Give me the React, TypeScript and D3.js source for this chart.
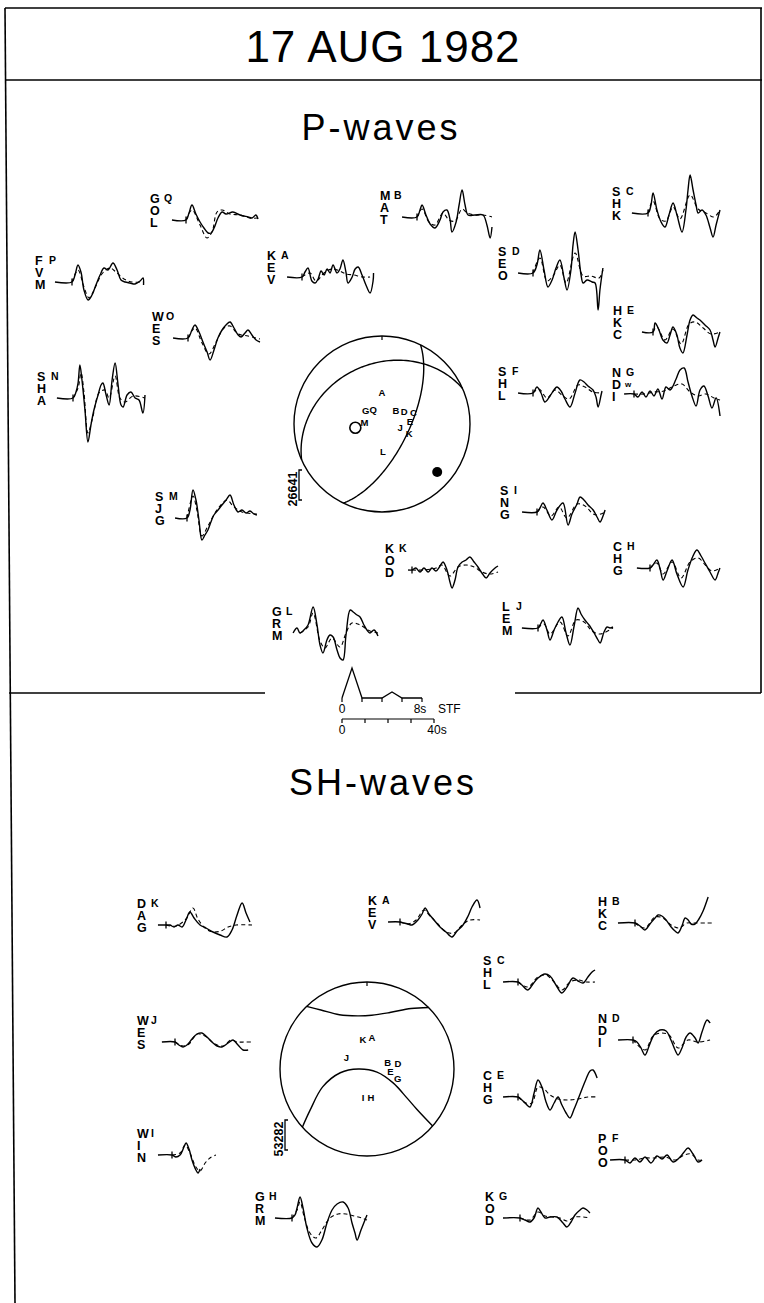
import React from "react";
import * as d3 from "d3";

type Pt = [number, number];

// ---------- event + mechanism ----------
const eventDate = "17 AUG 1982";
const pTitle = "P-waves";
const shTitle = "SH-waves";

// double-couple nodal planes (degrees)
const nodalPlanes = [
  { strike: 26, dip: 65 },
  { strike: 246, dip: 32 },
];
const pAxis = { trend: 131, plunge: 18 };
const tAxis = { trend: 262, plunge: 65 };

// station letters on the P focal sphere: [letter, azimuth, normalised radius]
const pSphereLetters: [string, number, number][] = [
  ["A", 0, 0.36], ["L", 178, 0.31], ["M", 276, 0.2], ["G", 309, 0.24],
  ["Q", 328, 0.19], ["B", 46, 0.22], ["D", 60, 0.29], ["C", 70, 0.38],
  ["E", 84, 0.32], ["J", 100, 0.21], ["K", 110, 0.33],
];

// station letters on the SH focal sphere
const shSphereLetters: [string, number, number][] = [
  ["K", 352, 0.34], ["A", 9, 0.37], ["J", 298, 0.27], ["B", 72, 0.25],
  ["D", 80, 0.36], ["E", 96, 0.27], ["G", 108, 0.37], ["I", 188, 0.33], ["H", 172, 0.33],
];

// SH nodal lines: [azimuth, normalised radius]
const shNodalUpper: Pt[] = [
  [316, 1.0], [322, 0.86], [333, 0.7], [350, 0.62], [5, 0.62], [22, 0.7], [36, 0.86], [45, 1.0],
];
const shNodalLower: Pt[] = [
  [228, 1.0], [234, 0.81], [248, 0.55], [262, 0.31], [270, 0.1],
  [107, 0.12], [118, 0.34], [126, 0.57], [129, 0.74], [131, 1.0],
];

const pScaleLabel = "26641";
const shScaleLabel = "53282";

// source time function (s, relative moment rate)
const stf: Pt[] = [[0, 0], [1, 1], [2, 0], [4, 0], [5, 0.2], [6, 0], [8, 0]];
const stfTicks = [0, 2, 4, 6, 8];
const traceTicks = [0, 10, 20, 30, 40];

// ---------- P waveforms: [time s, amplitude] ----------
const pObserved: Record<string, Pt[]> = {
  GOL: [[-6.1,0],[0,0],[1.3,7],[2.6,15],[4.3,6],[6.1,-2],[7.8,-8],[9.6,-13],[10.9,-13],[12.2,-8],[13.9,2],[15.7,8],[17.4,6],[20.4,8],[23.5,5],[27.0,3],[28.7,2],[30.4,5],[31.3,1]],
  FVM: [[-7.4,0],[0,0],[1.3,7],[2.6,17],[3.9,10],[5.2,-8],[7.0,-18],[8.7,-13],[10.4,-3],[12.2,7],[13.9,14],[15.7,12],[17.8,19],[19.6,12],[21.3,2],[23.1,0],[25.2,-1],[27.4,-2],[29.6,1],[30.9,4],[31.1,-3]],
  KEV: [[-6.5,0],[0,0],[1.3,5],[2.6,9],[4.3,-4],[5.7,-6],[7.0,-2],[8.3,6],[9.6,2],[10.9,8],[12.2,4],[13.5,12],[15.2,4],[16.5,8],[17.8,17],[19.1,5],[20.0,-6],[21.8,0],[23.1,8],[24.4,10],[26.1,2],[27.8,-8],[29.6,-16],[30.9,-4],[31.1,4]],
  WES: [[-6.5,0],[0,0],[1.7,8],[3.0,13],[4.8,6],[6.5,-4],[8.3,-14],[9.6,-22],[11.3,-12],[13.0,0],[14.8,8],[16.5,13],[18.3,16],[20.0,10],[21.8,3],[23.1,1],[24.8,5],[26.1,8],[27.8,3],[29.6,-2],[31.3,-4]],
  SHA: [[-7.0,0],[0,0],[1.3,6],[2.2,15],[3.0,33],[3.9,18],[5.2,-12],[6.5,-44],[7.8,-27],[9.1,-12],[10.9,3],[12.2,13],[13.0,15],[14.4,3],[15.7,-7],[17.0,18],[18.3,35],[19.6,13],[20.9,-7],[21.8,-9],[23.5,3],[25.2,6],[27.0,0],[28.7,-2],[30.4,-15],[31.3,3]],
  SJG: [[-5.2,0],[0,0],[1.3,8],[2.6,28],[3.9,18],[5.2,-2],[6.5,-22],[7.8,-17],[9.1,-12],[10.4,-4],[11.7,3],[13.5,8],[15.2,13],[17.0,18],[18.7,23],[20.4,13],[22.2,6],[23.9,8],[25.7,5],[27.4,7],[29.1,4],[30.4,3]],
  GRM: [[-3.0,0],[-1.3,5],[0,0],[1.7,3],[3.5,8],[5.7,26],[7.4,8],[8.7,-12],[10.0,-20],[11.7,-7],[13.0,-2],[14.4,-4],[16.1,-17],[17.4,-25],[18.7,-27],[20.0,-2],[21.8,23],[23.1,21],[24.8,18],[26.1,16],[27.8,8],[29.1,3],[30.4,0],[32.2,3],[33.9,-3]],
  MAT: [[-6.5,0],[0,0],[1.3,7],[2.2,12],[3.9,2],[5.7,-7],[7.8,-11],[10.0,-3],[11.3,5],[13.0,7],[14.4,-3],[15.2,-15],[17.0,-5],[18.3,12],[19.6,27],[20.9,12],[22.2,2],[25.2,2],[28.7,2],[30.4,-8],[31.8,-21],[32.6,-10]],
  SHK: [[-7.0,0],[0,0],[1.3,8],[2.2,20],[3.9,3],[5.7,-9],[7.4,-14],[9.1,-2],[10.9,10],[12.6,-2],[14.8,-19],[16.5,3],[17.4,23],[18.3,38],[19.6,23],[20.9,8],[21.8,0],[23.5,3],[25.2,-2],[27.0,-15],[28.3,-24],[29.6,-12],[31.3,3]],
  SEO: [[-6.5,0],[0,0],[1.7,8],[3.0,23],[4.8,3],[6.5,-14],[8.3,-7],[10.0,5],[11.7,13],[13.5,-5],[14.8,-17],[16.5,3],[17.4,28],[18.3,41],[19.6,23],[20.9,-2],[21.8,-10],[23.5,-7],[25.7,-9],[27.0,-10],[28.3,-37],[29.1,-17],[30.4,5]],
  HKC: [[-4.8,0],[0,0],[0.9,9],[2.6,2],[4.3,-8],[6.1,-11],[7.4,-3],[8.7,5],[10.4,-3],[11.7,-16],[13.0,-21],[14.8,-3],[16.1,12],[17.4,17],[19.1,14],[20.4,12],[22.6,7],[24.8,2],[26.1,-8],[27.0,-15],[28.3,-6],[29.1,0]],
  SHL: [[-6.5,0],[0,0],[1.7,6],[3.5,0],[5.2,-9],[7.4,-3],[9.1,3],[10.4,6],[12.2,2],[13.9,-6],[16.1,-14],[18.3,0],[20.4,13],[22.2,11],[23.9,7],[26.1,3],[27.4,-4],[28.3,-14],[29.6,-2],[30.0,2]],
  NDI: [[-4.3,0],[0,0],[1.7,-3],[3.5,2],[5.2,-3],[7.0,3],[8.7,-2],[10.4,5],[12.2,-5],[13.9,7],[15.7,4],[18.3,15],[20.0,24],[21.8,26],[23.5,12],[25.2,-2],[27.0,-12],[28.7,4],[30.4,8],[32.2,-2],[33.9,-14],[35.7,-4],[37.4,-22]],
  SNG: [[-6.5,0],[0,0],[1.3,4],[2.6,9],[4.3,2],[6.5,-8],[8.7,2],[11.3,9],[13.5,-13],[15.2,-2],[17.4,8],[18.7,15],[20.4,12],[22.2,7],[24.4,2],[26.1,-5],[27.4,-10],[28.7,-4],[29.6,2]],
  KOD: [[-1.7,0],[0,0],[1.7,2],[3.5,-2],[5.2,2],[7.0,-2],[8.7,2],[10.4,-1],[12.2,4],[13.5,8],[15.2,0],[16.5,-12],[17.4,-18],[18.7,-10],[20.0,3],[21.8,8],[23.5,10],[25.2,13],[27.0,8],[28.7,3],[30.4,-3],[32.2,-8],[33.9,-3],[36.1,2],[37.4,4]],
  CHG: [[-5.7,0],[0,0],[1.3,3],[3.0,8],[4.3,0],[5.7,-12],[7.4,-3],[9.6,8],[11.7,-6],[14.4,-19],[16.5,-2],[18.7,12],[20.4,18],[22.2,12],[23.9,5],[26.1,-4],[28.3,-12],[29.6,-5],[30.4,0]],
  LEM: [[-7.0,0],[0,0],[0.9,3],[2.2,8],[3.9,-2],[5.2,-12],[7.0,-2],[8.7,6],[10.4,11],[12.2,-5],[13.9,-17],[15.7,2],[17.4,20],[18.7,14],[20.4,8],[22.2,3],[24.4,-5],[26.1,-12],[27.0,-15],[28.7,-4],[30.0,1],[31.3,0],[32.6,1]],
};

const pSynthetic: Record<string, Pt[]> = {
  GOL: [[0,0],[2.6,10],[6.1,-5],[9.1,-18],[11.3,-12],[13.5,8],[15.7,10],[19.1,6],[23.5,5],[27.8,2],[31.3,2]],
  FVM: [[0,0],[2.6,12],[5.2,-5],[7.4,-16],[9.6,-8],[13.0,8],[16.5,14],[19.1,10],[22.6,3],[26.1,0],[30.9,0]],
  KEV: [[0,0],[3.5,4],[6.1,-4],[9.6,4],[13.0,8],[16.5,6],[19.1,3],[22.6,2],[26.1,0],[29.6,0]],
  WES: [[0,0],[3.0,10],[6.1,-5],[9.1,-16],[12.2,-4],[15.7,10],[18.3,12],[21.8,4],[26.1,2],[31.3,-1]],
  SHA: [[0,0],[2.2,10],[3.5,25],[4.8,5],[6.5,-35],[8.7,-18],[11.3,5],[13.9,8],[15.7,0],[18.3,22],[20.4,0],[22.6,-4],[26.1,2],[31.3,0]],
  SJG: [[0,0],[2.6,22],[4.3,8],[6.5,-18],[9.1,-8],[13.0,8],[17.4,18],[20.0,12],[23.9,6],[30.4,4]],
  GRM: [[0,0],[3.5,6],[5.7,20],[8.7,-8],[10.9,-15],[13.9,-5],[17.4,-14],[20.0,0],[22.6,10],[26.1,8],[30.4,2],[33.9,0]],
  MAT: [[0,0],[2.2,8],[5.2,-5],[7.8,-8],[11.3,4],[13.9,-3],[16.5,-4],[19.6,8],[21.8,4],[25.2,2],[28.7,2],[32.6,0]],
  SHK: [[0,0],[2.2,12],[5.2,-6],[7.8,-8],[10.9,6],[13.9,-6],[18.3,18],[21.8,4],[25.2,0],[28.7,-4],[31.3,3]],
  SEO: [[0,0],[3.0,15],[6.1,-8],[8.7,-3],[11.7,8],[14.4,-10],[18.3,20],[21.8,-3],[25.2,-3],[28.7,-5],[30.4,3]],
  HKC: [[0,0],[1.7,5],[5.2,-8],[8.7,3],[12.2,-12],[15.7,8],[18.3,10],[21.8,4],[25.2,-2],[29.1,0]],
  SHL: [[0,0],[2.6,4],[6.1,-5],[9.6,3],[13.0,-3],[15.7,-6],[19.6,8],[22.6,6],[26.1,1],[30.0,0]],
  NDI: [[0,0],[4.3,0],[8.7,2],[13.0,3],[17.4,8],[20.9,10],[24.4,2],[27.8,-2],[31.3,0],[34.8,-4],[37.4,-6]],
  SNG: [[0,0],[2.6,5],[6.1,-4],[9.6,5],[13.0,-6],[17.4,8],[20.9,6],[24.4,-2],[26.1,-3],[29.6,0]],
  KOD: [[0,0],[5.2,0],[10.4,2],[13.0,5],[16.5,-6],[20.0,3],[23.5,5],[27.0,3],[30.4,-2],[33.9,-4],[37.4,-2]],
  CHG: [[0,0],[3.0,5],[5.7,-6],[9.6,6],[13.5,-10],[17.4,6],[20.9,10],[24.4,2],[27.0,-3],[30.4,0]],
  LEM: [[0,0],[2.6,4],[5.2,-6],[9.6,6],[13.0,-8],[16.5,8],[20.0,6],[23.5,-3],[27.0,-6],[32.6,0]],
};

// ---------- SH waveforms ----------
const shObserved: Record<string, Pt[]> = {
  DAG: [[-3.5,0],[0,0],[1.7,0],[3.5,-2],[5.2,0],[7.0,-2],[8.7,5],[10.4,13],[12.2,7],[14.8,0],[17.4,-3],[20.4,-7],[23.5,-10],[26.5,-12],[28.7,-5],[30.9,10],[33.1,22],[34.8,12],[36.5,3]],
  WES: [[-5.7,0],[0,0],[1.7,-3],[3.5,-5],[5.2,-3],[7.4,3],[9.6,8],[11.7,9],[13.9,5],[16.1,0],[18.3,-4],[20.4,-5],[23.1,-1],[25.2,2],[27.4,-3],[29.6,-8],[31.8,-8]],
  WIN: [[-6.1,0],[0,0],[1.7,-2],[3.5,0],[5.2,8],[6.1,12],[7.4,6],[8.7,-5],[10.4,-15],[11.3,-18],[12.2,-14]],
  GRM: [[-7.4,0],[0,0],[1.3,3],[2.2,10],[3.5,21],[4.8,10],[6.5,-10],[8.7,-25],[10.9,-29],[13.0,-22],[15.2,-5],[17.4,8],[19.6,14],[22.2,16],[24.4,10],[26.1,-5],[27.4,-15],[28.3,-22],[30.0,-12],[32.6,3]],
  KEV: [[-5.2,0],[0,0],[1.7,-1],[3.5,-2],[5.2,-3],[7.8,2],[9.6,8],[10.9,14],[12.6,8],[14.8,2],[17.4,-5],[20.0,-10],[22.6,-15],[24.8,-9],[27.4,-3],[29.6,6],[31.3,15],[33.5,22],[34.8,14]],
  HKC: [[-7.4,0],[0,0],[2.2,-3],[4.3,-7],[6.5,-1],[8.7,5],[10.0,8],[11.7,7],[13.5,3],[15.7,-4],[17.4,-8],[18.7,-10],[20.4,-3],[21.8,5],[23.1,3],[24.4,-1],[26.1,-1],[27.8,4],[29.6,12],[31.8,26]],
  SHL: [[-6.5,0],[0,0],[1.7,-3],[4.3,-8],[6.5,-2],[8.7,4],[11.7,8],[13.9,6],[16.5,-3],[19.1,-11],[21.3,-5],[23.9,4],[26.1,1],[28.3,-1],[30.4,5],[32.2,10],[33.5,12]],
  NDI: [[-6.5,0],[0,0],[1.7,-2],[3.5,-8],[5.2,-15],[7.0,-6],[9.1,5],[11.7,10],[14.4,9],[16.5,0],[18.3,-10],[19.6,-15],[21.3,-8],[23.1,3],[24.8,7],[27.0,2],[28.3,-3],[30.0,8],[32.2,20],[33.5,17]],
  CHG: [[-6.5,0],[0,0],[1.7,-3],[3.5,-7],[5.2,-10],[7.0,4],[8.7,17],[10.4,10],[12.2,-5],[13.9,-13],[15.7,-6],[17.4,0],[19.1,-8],[20.9,-16],[22.6,-21],[24.4,-12],[27.0,3],[29.6,18],[31.3,26],[32.6,27],[34.4,19]],
  POO: [[-6.5,0],[0,0],[2.2,-3],[4.3,2],[6.5,-2],[8.7,3],[11.3,-3],[13.9,4],[16.1,1],[18.3,5],[20.9,-2],[23.5,2],[25.7,8],[27.4,12],[29.6,6],[31.8,-2],[33.5,0]],
  KOD: [[-7.4,0],[0,0],[2.2,-2],[4.3,-4],[6.1,0],[7.8,10],[9.1,6],[10.9,0],[13.0,1],[16.1,1],[18.7,-5],[20.4,-9],[22.2,-4],[23.9,3],[26.1,8],[27.4,10],[29.1,8],[30.4,5]],
};

const shSynthetic: Record<string, Pt[]> = {
  DAG: [[0,0],[4.3,-1],[8.7,6],[11.7,17],[13.9,6],[17.4,-4],[20.4,-7],[23.9,-6],[27.0,-2],[30.4,0],[37.4,0]],
  WES: [[0,0],[3.5,-4],[6.1,-2],[9.6,8],[13.0,6],[17.4,-2],[20.9,-4],[24.4,2],[27.0,0],[30.4,0],[33.1,0]],
  WIN: [[0,0],[3.5,2],[5.7,10],[7.8,2],[10.4,-12],[12.2,-16],[14.4,-8],[16.5,-3],[19.1,0]],
  GRM: [[0,0],[2.2,8],[3.5,16],[5.2,2],[7.8,-15],[10.4,-20],[13.0,-12],[16.5,0],[20.0,4],[23.5,4],[27.0,2],[30.4,0],[32.6,-2]],
  KEV: [[0,0],[3.5,-2],[7.0,2],[10.4,12],[13.0,6],[16.5,-2],[20.0,-10],[23.5,-11],[27.0,-3],[30.4,2],[34.8,2]],
  HKC: [[0,0],[4.3,-5],[8.7,6],[12.2,5],[15.7,-2],[19.1,-5],[22.6,0],[26.1,0],[31.3,0],[33.9,0]],
  SHL: [[0,0],[4.3,-5],[8.7,5],[12.2,7],[15.7,0],[19.1,-8],[22.6,0],[26.1,2],[29.6,0],[33.5,0]],
  NDI: [[0,0],[5.2,-10],[8.7,4],[12.2,7],[15.7,5],[19.6,-8],[23.9,0],[28.3,-2],[33.5,0]],
  CHG: [[0,0],[3.5,-6],[6.1,-6],[8.7,10],[11.3,8],[13.9,2],[17.4,-2],[21.8,-3],[26.1,-2],[30.4,0],[34.8,0]],
  POO: [[0,0],[4.3,0],[8.7,2],[13.0,2],[17.4,3],[21.8,0],[25.7,5],[28.7,6],[31.8,0],[33.5,0]],
  KOD: [[0,0],[4.3,-2],[7.8,6],[10.9,2],[13.9,1],[17.4,0],[20.4,-3],[23.9,1],[27.4,1],[30.4,0]],
};

// ---------- layout ----------
type Station = { code: string; sup: string; lx: number; y0: number; x0: number; tick?: boolean; extra?: string };

const pStations: Station[] = [
  { code: "GOL", sup: "Q", lx: 150, y0: 220, x0: 186 },
  { code: "FVM", sup: "P", lx: 35, y0: 282, x0: 72 },
  { code: "KEV", sup: "A", lx: 267, y0: 277, x0: 302 },
  { code: "WES", sup: "O", lx: 152, y0: 338, x0: 188 },
  { code: "SHA", sup: "N", lx: 37, y0: 398, x0: 73 },
  { code: "SJG", sup: "M", lx: 155, y0: 518, x0: 187 },
  { code: "GRM", sup: "L", lx: 272, y0: 633, x0: 300, tick: false },
  { code: "MAT", sup: "B", lx: 380, y0: 217, x0: 417 },
  { code: "SHK", sup: "C", lx: 612, y0: 213, x0: 648 },
  { code: "SEO", sup: "D", lx: 498, y0: 273, x0: 533 },
  { code: "HKC", sup: "E", lx: 613, y0: 332, x0: 653 },
  { code: "SHL", sup: "F", lx: 498, y0: 393, x0: 533 },
  { code: "NDI", sup: "G", lx: 612, y0: 394, x0: 634, extra: "w" },
  { code: "SNG", sup: "I", lx: 500, y0: 512, x0: 537 },
  { code: "KOD", sup: "K", lx: 385, y0: 570, x0: 412 },
  { code: "CHG", sup: "H", lx: 613, y0: 568, x0: 650 },
  { code: "LEM", sup: "J", lx: 502, y0: 628, x0: 538 },
];

const shStations: Station[] = [
  { code: "DAG", sup: "K", lx: 137, y0: 925, x0: 166 },
  { code: "WES", sup: "J", lx: 137, y0: 1042, x0: 175 },
  { code: "WIN", sup: "I", lx: 137, y0: 1155, x0: 172 },
  { code: "GRM", sup: "H", lx: 255, y0: 1218, x0: 292 },
  { code: "KEV", sup: "A", lx: 368, y0: 922, x0: 400 },
  { code: "HKC", sup: "B", lx: 598, y0: 923, x0: 635 },
  { code: "SHL", sup: "C", lx: 483, y0: 982, x0: 518 },
  { code: "NDI", sup: "D", lx: 598, y0: 1040, x0: 633 },
  { code: "CHG", sup: "E", lx: 483, y0: 1097, x0: 518 },
  { code: "POO", sup: "F", lx: 598, y0: 1160, x0: 625 },
  { code: "KOD", sup: "G", lx: 485, y0: 1218, x0: 520 },
];

const W = 764;
const H = 1303;
const FONT = "'Liberation Sans', Arial, sans-serif";
const LABEL_FONT = "'Liberation Sans Narrow', 'Liberation Sans', Arial, sans-serif";

// seismogram scales: seconds -> px, amplitude -> px (up positive)
const traceTime = d3.scaleLinear().domain([0, 40]).range([0, 92]);
const traceAmp = d3.scaleLinear().domain([-50, 50]).range([50, -50]);

const rad = Math.PI / 180;

function equalArea(trend: number, radiusFrac: number, R: number): Pt {
  const r = d3.scaleLinear().domain([0, 1]).range([0, R])(radiusFrac);
  return [r * Math.sin(trend * rad), -r * Math.cos(trend * rad)];
}

function plungeToFrac(plunge: number) {
  const inc = (90 - plunge) * rad;
  return Math.SQRT2 * Math.sin(inc / 2);
}

function nodalPlanePath(strike: number, dip: number, R: number) {
  const s = strike * rad;
  const d = dip * rad;
  const dd = s + Math.PI / 2;
  const sHat = [Math.cos(s), Math.sin(s), 0];
  const dHat = [Math.cos(d) * Math.cos(dd), Math.cos(d) * Math.sin(dd), Math.sin(d)];
  const pts: Pt[] = d3.range(0, 180.001, 2).map((lam) => {
    const l = lam * rad;
    const v = [0, 1, 2].map((k) => Math.cos(l) * sHat[k] + Math.sin(l) * dHat[k]);
    const plunge = Math.asin(Math.min(1, Math.max(-1, v[2]))) / rad;
    const trend = Math.atan2(v[1], v[0]) / rad;
    return equalArea(trend, plungeToFrac(plunge), R);
  });
  return d3.line()(pts) || "";
}

const Trace: React.FC<{ st: Station; obs: Pt[]; syn: Pt[] }> = ({ st, obs, syn }) => {
  const line = d3
    .line<Pt>()
    .x((d) => st.x0 + traceTime(d[0]))
    .y((d) => st.y0 + traceAmp(d[1]))
    .curve(d3.curveCatmullRom.alpha(0.5));
  const letters = st.code.split("");
  const offs = [-17, -5, 7];
  return (
    <g fill="#000">
      {letters.map((c, i) => (
        <text key={i} x={st.lx} y={st.y0 + offs[i]} fontSize={12.5} fontWeight="bold" fontFamily={LABEL_FONT}>
          {c}
        </text>
      ))}
      <text x={st.lx + 14} y={st.y0 - 18} fontSize={10.5} fontWeight="bold" fontFamily={LABEL_FONT}>
        {st.sup}
      </text>
      {st.extra && (
        <text x={st.lx + 13} y={st.y0 - 7} fontSize={8} fontWeight="bold" fontFamily={LABEL_FONT}>
          {st.extra}
        </text>
      )}
      <path d={line(obs) || ""} fill="none" stroke="#000" strokeWidth={1.4} strokeLinejoin="round" />
      <path d={line(syn) || ""} fill="none" stroke="#000" strokeWidth={1.1} strokeDasharray="4 3" />
      {st.tick !== false && (
        <line x1={st.x0} x2={st.x0} y1={st.y0 - 3.5} y2={st.y0 + 3.5} stroke="#000" strokeWidth={1.3} />
      )}
    </g>
  );
};

const FocalSphereP: React.FC<{ cx: number; cy: number; R: number }> = ({ cx, cy, R }) => {
  const pPos = equalArea(pAxis.trend, plungeToFrac(pAxis.plunge), R);
  const tPos = equalArea(tAxis.trend, plungeToFrac(tAxis.plunge), R);
  return (
    <g transform={`translate(${cx},${cy})`}>
      <circle r={R} fill="none" stroke="#000" strokeWidth={1.4} />
      <line x1={0} x2={0} y1={-R} y2={-R + 4} stroke="#000" strokeWidth={1.2} />
      {nodalPlanes.map((p, i) => (
        <path key={i} d={nodalPlanePath(p.strike, p.dip, R)} fill="none" stroke="#000" strokeWidth={1.4} />
      ))}
      <circle cx={pPos[0]} cy={pPos[1]} r={5} fill="#000" />
      <circle cx={tPos[0]} cy={tPos[1]} r={5.5} fill="none" stroke="#000" strokeWidth={1.6} />
      {pSphereLetters.map(([c, az, rr], i) => {
        const [x, y] = equalArea(az, rr, R);
        return (
          <text key={i} x={x} y={y} fill="#000" fontSize={9.5} fontWeight="bold" fontFamily={LABEL_FONT} textAnchor="middle" dominantBaseline="central">
            {c}
          </text>
        );
      })}
    </g>
  );
};

const FocalSphereSH: React.FC<{ cx: number; cy: number; R: number }> = ({ cx, cy, R }) => {
  const toXY = (d: Pt) => equalArea(d[0], d[1], R);
  const curve = d3.line().curve(d3.curveCatmullRom.alpha(0.5));
  return (
    <g transform={`translate(${cx},${cy})`}>
      <circle r={R} fill="none" stroke="#000" strokeWidth={1.4} />
      <line x1={0} x2={0} y1={-R} y2={-R + 4} stroke="#000" strokeWidth={1.2} />
      <path d={curve(shNodalUpper.map(toXY)) || ""} fill="none" stroke="#000" strokeWidth={1.4} />
      <path d={curve(shNodalLower.map(toXY)) || ""} fill="none" stroke="#000" strokeWidth={1.4} />
      {shSphereLetters.map(([c, az, rr], i) => {
        const [x, y] = equalArea(az, rr, R);
        return (
          <text key={i} x={x} y={y} fill="#000" fontSize={9.5} fontWeight="bold" fontFamily={LABEL_FONT} textAnchor="middle" dominantBaseline="central">
            {c}
          </text>
        );
      })}
    </g>
  );
};

const ScaleBar: React.FC<{ x: number; y1: number; y2: number; label: string }> = ({ x, y1, y2, label }) => (
  <g>
    <path d={`M${x + 3},${y1}H${x}V${y2}H${x + 3}`} fill="none" stroke="#000" strokeWidth={1.3} />
    <text
      transform={`translate(${x - 2},${(y1 + y2) / 2 + 4}) rotate(-90)`}
      fill="#000"
      fontSize={12.5}
      fontWeight="bold"
      fontFamily={LABEL_FONT}
      textAnchor="middle"
    >
      {label}
    </text>
  </g>
);

const STFPanel: React.FC<{ x: number; y: number }> = ({ x, y }) => {
  const sx = d3.scaleLinear().domain([0, 8]).range([0, 80]);
  const sy = d3.scaleLinear().domain([0, 1]).range([0, -30]);
  const tx = d3.scaleLinear().domain([0, 40]).range([0, 92]);
  const path = d3.line<Pt>().x((d) => x + sx(d[0])).y((d) => y + sy(d[1]))(stf) || "";
  const y2 = y + 21;
  return (
    <g fontFamily={FONT} fontSize={12} fill="#000">
      <path d={path} fill="none" stroke="#000" strokeWidth={1.3} />
      {stfTicks.map((t) => (
        <line key={t} x1={x + sx(t)} x2={x + sx(t)} y1={y} y2={y + 4} stroke="#000" strokeWidth={1.2} />
      ))}
      <text x={x} y={y + 15} textAnchor="middle">0</text>
      <text x={x + sx(8) - 2} y={y + 15} textAnchor="middle">8s</text>
      <text x={x + 96} y={y + 15}>STF</text>
      <line x1={x} x2={x + tx(40)} y1={y2} y2={y2} stroke="#000" strokeWidth={1.2} />
      {traceTicks.map((t) => (
        <line key={t} x1={x + tx(t)} x2={x + tx(t)} y1={y2} y2={y2 + 4} stroke="#000" strokeWidth={1.2} />
      ))}
      <text x={x} y={y2 + 15} textAnchor="middle">0</text>
      <text x={x + tx(40) + 3} y={y2 + 15} textAnchor="middle">40s</text>
    </g>
  );
};

export default function App() {
  return (
    <svg
      width={W}
      height={H}
      viewBox={`0 0 ${W} ${H}`}
      style={{ position: "absolute", left: 0, top: 0, background: "#fff" }}
    >
      <rect width={W} height={H} fill="#fff" />
      {/* frame */}
      <g stroke="#000" strokeWidth={1.6} fill="none">
        <line x1={5} x2={762} y1={8} y2={8} />
        <line x1={5} x2={762} y1={80} y2={80} />
        <line x1={761} x2={761} y1={8} y2={693} />
        <line x1={5} x2={15} y1={8} y2={H} />
        <line x1={9} x2={265} y1={693} y2={693} />
        <line x1={515} x2={761} y1={693} y2={693} />
      </g>
      <text x={383} y={62} fill="#000" fontSize={44} fontFamily={FONT} textAnchor="middle" letterSpacing={1}>
        {eventDate}
      </text>
      <text x={381} y={140} fill="#000" fontSize={36} fontFamily={FONT} textAnchor="middle" letterSpacing={3}>
        {pTitle}
      </text>
      <text x={383} y={795} fill="#000" fontSize={36} fontFamily={FONT} textAnchor="middle" letterSpacing={3}>
        {shTitle}
      </text>

      <FocalSphereP cx={382} cy={424} R={88} />
      <ScaleBar x={299} y1={470} y2={500} label={pScaleLabel} />
      <FocalSphereSH cx={367} cy={1069} R={87} />
      <ScaleBar x={285} y1={1120} y2={1150} label={shScaleLabel} />

      {pStations.map((st) => (
        <Trace key={"p" + st.code} st={st} obs={pObserved[st.code]} syn={pSynthetic[st.code]} />
      ))}
      {shStations.map((st) => (
        <Trace key={"s" + st.code} st={st} obs={shObserved[st.code]} syn={shSynthetic[st.code]} />
      ))}

      <STFPanel x={342} y={698} />
    </svg>
  );
}
